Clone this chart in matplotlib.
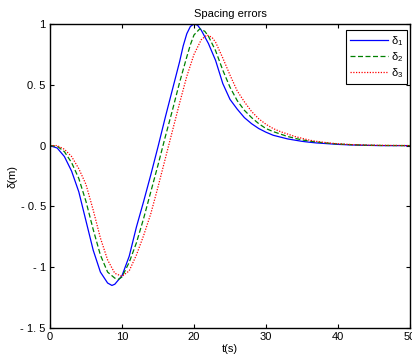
import matplotlib
matplotlib.use('Agg')
from matplotlib import pyplot as plt
import numpy as np

plt.rcParams['font.family'] = ['Liberation Sans', 'DejaVu Sans']
plt.rcParams['mathtext.fontset'] = 'custom'
plt.rcParams['mathtext.rm'] = 'Liberation Sans'

# values
t1 = [0, 1, 2, 3, 4, 5, 6, 7, 8, 8.6, 9, 10, 11, 12, 13, 14, 15, 16, 17, 18, 18.5, 19, 19.5, 20, 20.5,
      21, 22, 23, 24, 25, 26, 27, 28, 29, 30, 31, 32, 33, 34, 35, 36, 37, 38, 39, 40, 42, 44, 46, 50]
d1 = [0, -0.02, -0.09, -0.21, -0.38, -0.62, -0.86, -1.04, -1.13, -1.15, -1.14, -1.07, -0.91, -0.67,
      -0.46, -0.24, -0.01, 0.23, 0.46, 0.69, 0.82, 0.92, 0.98, 1.0, 0.99, 0.95, 0.84, 0.70, 0.51, 0.38,
      0.30, 0.23, 0.18, 0.14, 0.11, 0.085, 0.07, 0.055, 0.045, 0.035, 0.028, 0.022, 0.018, 0.014, 0.01,
      0.005, 0.002, 0.0, 0.0]

t2 = [0, 1, 2, 3, 4, 5, 6, 7, 8, 9, 9.5, 10, 11, 12, 13, 14, 15, 16, 17, 18, 19, 19.5, 20, 20.8, 21.5,
      22, 23, 24, 25, 26, 27, 28, 29, 30, 31, 32, 33, 34, 35, 36, 37, 38, 39, 40, 42, 44, 46, 50]
d2 = [0, -0.005, -0.05, -0.14, -0.27, -0.46, -0.69, -0.90, -1.04, -1.09, -1.10, -1.08, -0.96, -0.80,
      -0.60, -0.38, -0.16, 0.07, 0.29, 0.52, 0.73, 0.83, 0.91, 0.96, 0.94, 0.90, 0.78, 0.62, 0.48, 0.37,
      0.29, 0.23, 0.18, 0.14, 0.115, 0.095, 0.075, 0.06, 0.047, 0.037, 0.03, 0.023, 0.018, 0.013, 0.007,
      0.003, 0.001, 0.0]

t3 = [0, 1, 2, 3, 4, 5, 6, 7, 8, 9, 10, 11, 12, 13, 14, 15, 16, 17, 18, 19, 20, 21, 21.8, 22.5, 23,
      24, 25, 26, 27, 28, 29, 30, 31, 32, 33, 34, 35, 36, 37, 38, 39, 40, 42, 44, 46, 50]
d3 = [0, 0.0, -0.03, -0.09, -0.19, -0.32, -0.53, -0.76, -0.94, -1.05, -1.075, -1.03, -0.90, -0.74,
      -0.56, -0.34, -0.11, 0.12, 0.35, 0.57, 0.75, 0.87, 0.91, 0.89, 0.85, 0.72, 0.58, 0.45, 0.36, 0.28,
      0.22, 0.175, 0.14, 0.115, 0.095, 0.075, 0.06, 0.045, 0.035, 0.027, 0.02, 0.015, 0.008, 0.004,
      0.002, 0.0]

labels = ['δ$_1$', 'δ$_2$', 'δ$_3$']
yticks = [-1.5, -1, -0.5, 0, 0.5, 1]
ytick_labels = ['- 1. 5', '- 1', '- 0. 5', '0', '0. 5', '1']
xticks = [0, 10, 20, 30, 40, 50]

fig = plt.figure(figsize=(4.12, 3.63), dpi=100)
ax = fig.add_axes([50/412, 1-328/363, 360/412, 304/363])

ax.plot(t1, d1, color='#0000ff', linestyle='-', linewidth=0.9, label=labels[0])
ax.plot(t2, d2, color='#008000', linestyle=(0, (4, 2)), linewidth=0.9, label=labels[1])
ax.plot(t3, d3, color='#ff0000', linestyle=(0, (1, 1.2)), linewidth=0.9, label=labels[2])

ax.set_xlim(0, 50)
ax.set_ylim(-1.5, 1)
ax.set_xticks(xticks)
ax.set_xticklabels([str(x) for x in xticks])
ax.set_yticks(yticks)
ax.set_yticklabels(ytick_labels)
ax.tick_params(direction='in', length=3, width=0.8, labelsize=8, top=True, right=True, pad=3)
for s in ax.spines.values():
	s.set_linewidth(1.0)

ax.set_title('Spacing errors', fontsize=8, pad=5)
ax.set_xlabel('t(s)', fontsize=8, labelpad=1)
ax.set_ylabel('δ(m)', fontsize=8, labelpad=2)

leg = ax.legend(loc='upper right', bbox_to_anchor=(0.992, 0.98), borderaxespad=0, fontsize=8,
                fancybox=False, edgecolor='black', framealpha=1, handlelength=3.4,
                labelspacing=0.2, handletextpad=0.3, borderpad=0.35)
leg.get_frame().set_linewidth(0.8)

fig.savefig('out.png', dpi=100)
